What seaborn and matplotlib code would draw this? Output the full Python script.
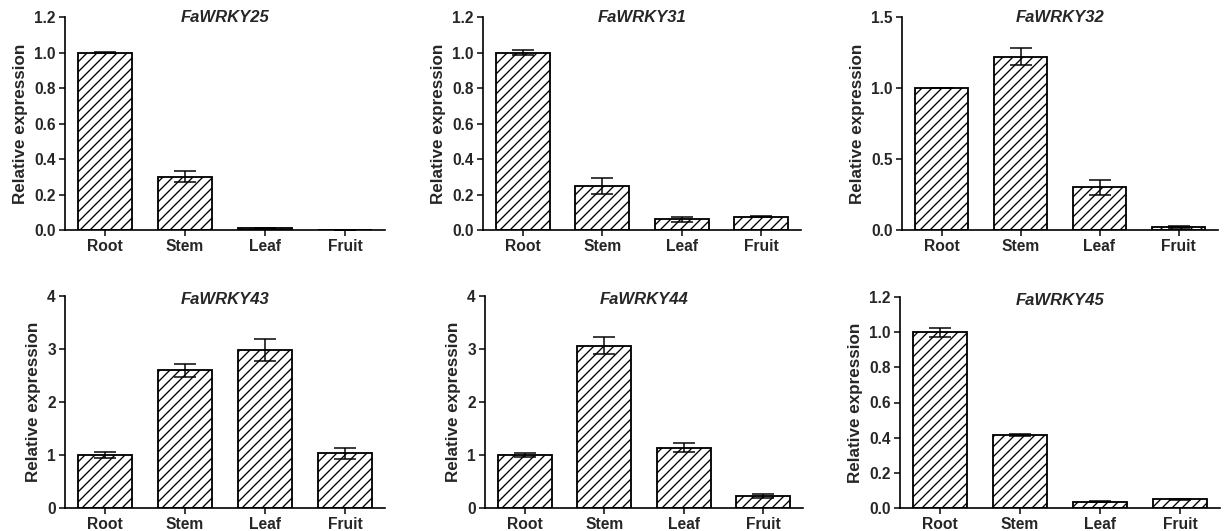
import matplotlib
matplotlib.use("Agg")
import matplotlib.pyplot as plt
import seaborn as sns
import numpy as np
import pandas as pd

tissues = ["Root", "Stem", "Leaf", "Fruit"]
genes = ["FaWRKY25", "FaWRKY31", "FaWRKY32", "FaWRKY43", "FaWRKY44", "FaWRKY45"]

mean_25 = [1.00, 0.30, 0.01, 0.0]
err_25 = [0.005, 0.03, 0.004, 0.0]
mean_31 = [1.00, 0.25, 0.06, 0.075]
err_31 = [0.015, 0.045, 0.015, 0.003]
mean_32 = [1.00, 1.22, 0.30, 0.02]
err_32 = [0.0, 0.06, 0.05, 0.006]
mean_43 = [1.00, 2.60, 2.98, 1.03]
err_43 = [0.05, 0.12, 0.20, 0.10]
mean_44 = [1.00, 3.06, 1.14, 0.23]
err_44 = [0.03, 0.16, 0.09, 0.04]
mean_45 = [1.00, 0.415, 0.035, 0.05]
err_45 = [0.025, 0.005, 0.002, 0.002]

means = [mean_25, mean_31, mean_32, mean_43, mean_44, mean_45]
errs = [err_25, err_31, err_32, err_43, err_44, err_45]

yticks_25 = [0.0, 0.2, 0.4, 0.6, 0.8, 1.0, 1.2]
yticks_31 = [0.0, 0.2, 0.4, 0.6, 0.8, 1.0, 1.2]
yticks_32 = [0.0, 0.5, 1.0, 1.5]
yticks_43 = [0, 1, 2, 3, 4]
yticks_44 = [0, 1, 2, 3, 4]
yticks_45 = [0.0, 0.2, 0.4, 0.6, 0.8, 1.0, 1.2]
yticks_all = [yticks_25, yticks_31, yticks_32, yticks_43, yticks_44, yticks_45]
ytick_fmt = ["{:.1f}", "{:.1f}", "{:.1f}", "{:d}", "{:d}", "{:.1f}"]

sns.set_style("ticks")
plt.rcParams['font.family'] = ['Liberation Sans', 'DejaVu Sans']
plt.rcParams['font.weight'] = 'bold'
plt.rcParams['hatch.linewidth'] = 0.8
plt.rcParams['hatch.color'] = 'black'

W, H = 1226, 531
dpi = 120
fig = plt.figure(figsize=(W / dpi, H / dpi), dpi=dpi)

# axes rectangles in pixels: (left, top, right, bottom)
rects = [
    (65, 17, 385, 230),
    (483, 17, 801, 230),
    (902, 17, 1218, 230),
    (65, 296, 385, 508),
    (485, 296, 803, 508),
    (900, 297, 1220, 508),
]
title_y = [1.0, 1.0, 1.0, 0.985, 0.985, 0.985]

for i, gene in enumerate(genes):
    l, t, r, b = rects[i]
    ax = fig.add_axes([l / W, 1 - b / H, (r - l) / W, (b - t) / H])
    df = pd.DataFrame({"tissue": tissues, "value": means[i]})
    sns.barplot(data=df, x="tissue", y="value", color="white", edgecolor="black",
                linewidth=1.1, hatch="////", width=0.68, ax=ax, errorbar=None,
                saturation=1)
    for p in ax.patches:
        p.set_facecolor("white")
        p.set_edgecolor("black")
        p.set_hatch("////")
    ax.errorbar(np.arange(len(tissues)), means[i], yerr=errs[i], fmt="none",
                ecolor="black", elinewidth=0.9, capsize=6.5, capthick=0.9,
                zorder=5)
    yt = yticks_all[i]
    ax.set_ylim(0, yt[-1])
    ax.set_xlim(-0.5, len(tissues) - 0.5)
    ax.set_yticks(yt)
    ax.set_yticklabels([ytick_fmt[i].format(v) for v in yt], fontsize=9.3,
                       fontweight="bold")
    ax.set_xticks(np.arange(len(tissues)))
    ax.set_xticklabels(tissues, fontsize=9.4, fontweight="bold")
    ax.set_xlabel("")
    ax.set_ylabel("Relative expression", fontsize=10.2, fontweight="bold",
                  labelpad=4)
    ax.tick_params(axis="both", direction="out", length=3.5, width=0.9,
                   color="black", pad=2)
    for s in ["top", "right"]:
        ax.spines[s].set_visible(False)
    for s in ["left", "bottom"]:
        ax.spines[s].set_linewidth(1.0)
        ax.spines[s].set_color("black")
    ax.text(0.5, title_y[i], gene, transform=ax.transAxes, ha="center", va="center",
            fontsize=10, fontweight="bold", fontstyle="italic")

fig.savefig("out.png", dpi=dpi)
